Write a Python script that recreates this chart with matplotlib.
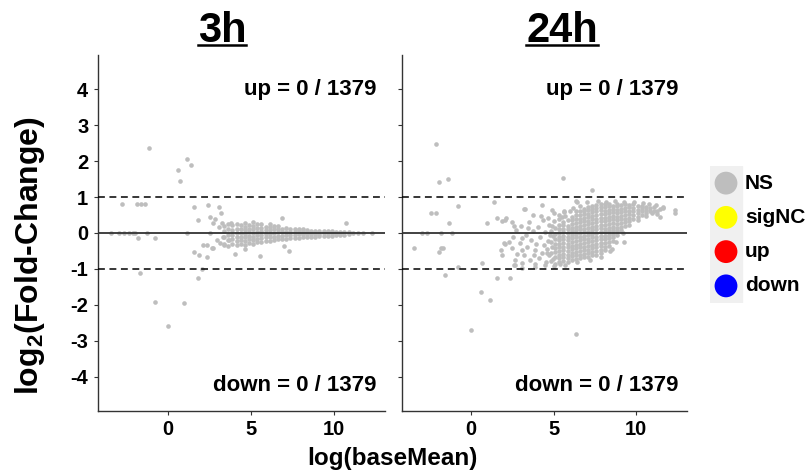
import matplotlib
matplotlib.use('Agg')
import matplotlib.pyplot as plt
from matplotlib.lines import Line2D
from matplotlib.patches import Rectangle
import numpy as np

plt.rcParams['font.family'] = ['Liberation Sans', 'DejaVu Sans']
plt.rcParams['font.weight'] = 'bold'
plt.rcParams['axes.unicode_minus'] = False
plt.rcParams['mathtext.fontset'] = 'custom'
plt.rcParams['mathtext.rm'] = 'Liberation Sans:bold'
plt.rcParams['mathtext.it'] = 'Liberation Sans:bold'
plt.rcParams['mathtext.bf'] = 'Liberation Sans:bold'

# ---- data -------------------------------------------------------------
panels = ['3h', '24h']
n_genes = 1379
n_up = [0, 0]
n_down = [0, 0]

# 3h: isolated genes (log baseMean, log2 fold-change)
sparse_3h = [
    (-1.14, 2.37), (1.19, 2.07), (1.43, 1.90), (0.64, 1.74), (0.72, 1.44),
    (-2.75, 0.82), (-1.83, 0.82), (-1.58, 0.82), (-1.36, 0.82),
    (1.59, 0.73), (2.43, 0.77), (3.08, 0.73), (3.20, 0.56), (1.83, 0.36),
    (-3.41, 0), (-2.91, 0), (-2.63, 0), (-2.35, 0), (-2.10, 0), (-1.95, 0),
    (-1.27, 0), (1.14, 0),
    (-1.78, -0.15), (-0.78, -0.15),
    (1.59, -0.52), (1.91, -0.61), (2.39, -0.68), (2.13, -0.33), (2.39, -0.33),
    (2.71, -0.43), (-1.66, -1.10), (2.07, -1.01), (1.85, -1.24),
    (-0.78, -1.91), (0.99, -1.95), (0.00, -2.58),
    (2.85, 0.38), (2.75, 0.27), (3.08, 0.18), (3.31, -0.10), (2.97, -0.19),
    (3.13, -0.29), (2.67, -0.43), (2.53, 0.45), (3.67, -0.19), (3.37, -0.33),
    (3.28, 0.27), (3.80, 0.27), (2.57, 0.00),
    (6.89, 0.43), (10.77, 0.28), (5.54, -0.64), (7.31, -0.49), (6.99, -0.36),
    (4.68, -0.44), (4.08, -0.58), (12.31, 0.0),
]

# 3h: dense band, columns of (log baseMean, [log2 fold-change ...])
band_3h = [
    (3.40, [-0.30, -0.10, 0.05, 0.20]),
    (3.65, [-0.35, -0.20, -0.05, 0.10, 0.25]),
    (3.90, [-0.30, -0.18, -0.05, 0.08, 0.22]),
    (4.15, [-0.33, -0.22, -0.10, 0.00, 0.12, 0.25]),
    (4.40, [-0.30, -0.20, -0.10, 0.00, 0.10, 0.22]),
    (4.65, [-0.32, -0.22, -0.12, -0.02, 0.08, 0.18, 0.28]),
    (4.90, [-0.28, -0.18, -0.08, 0.02, 0.12, 0.22]),
    (5.15, [-0.30, -0.20, -0.10, 0.00, 0.10, 0.20, 0.30]),
    (5.40, [-0.26, -0.16, -0.06, 0.04, 0.14, 0.24]),
    (5.65, [-0.25, -0.15, -0.05, 0.05, 0.15, 0.25]),
    (5.90, [-0.22, -0.12, -0.02, 0.08, 0.18]),
    (6.15, [-0.22, -0.12, -0.02, 0.08, 0.18, 0.24]),
    (6.40, [-0.20, -0.10, 0.00, 0.10, 0.20]),
    (6.65, [-0.18, -0.08, 0.02, 0.12, 0.20]),
    (6.90, [-0.18, -0.08, 0.02, 0.12]),
    (7.15, [-0.16, -0.06, 0.04, 0.14]),
    (7.40, [-0.15, -0.06, 0.03, 0.12]),
    (7.65, [-0.14, -0.05, 0.04, 0.12]),
    (7.90, [-0.13, -0.04, 0.05, 0.10]),
    (8.15, [-0.12, -0.04, 0.04, 0.10]),
    (8.40, [-0.12, -0.04, 0.04, 0.09]),
    (8.65, [-0.10, -0.02, 0.06]),
    (8.90, [-0.10, -0.02, 0.06]),
    (9.15, [-0.09, -0.02, 0.05]),
    (9.40, [-0.08, 0.00, 0.06]),
    (9.65, [-0.08, 0.00, 0.05]),
    (9.90, [-0.07, 0.00, 0.05]),
    (10.15, [-0.06, 0.00, 0.04]),
    (10.40, [-0.06, 0.00, 0.04]),
    (10.65, [-0.05, 0.02]),
    (10.90, [-0.04, 0.02]),
    (11.20, [0.0]),
    (11.50, [0.0]),
    (11.80, [0.0]),
]

# 24h: isolated genes
sparse_24h = [
    (-2.12, 2.47), (-1.94, 1.41), (-1.42, 1.51), (5.58, 1.54), (7.33, 1.19),
    (6.34, 0.90), (1.41, 0.87), (-0.83, 0.74), (-2.41, 0.55), (-2.16, 0.55),
    (-1.32, 0.29), (0.97, 0.29), (1.58, 0.42), (1.84, 0.33), (2.10, 0.42),
    (3.25, 0.68), (4.30, 0.78), (3.73, 0.50), (4.90, 0.63), (5.65, 0.62),
    (-2.97, 0), (-2.67, 0), (-1.82, 0), (-1.18, 0),
    (-3.48, -0.42), (-1.86, -0.42), (-1.70, -0.42), (-1.98, -0.53),
    (-0.81, -0.95), (-1.58, -1.16), (0.67, -0.84), (1.55, -1.24), (2.38, -1.24),
    (0.62, -1.64), (1.15, -1.85), (-0.02, -2.69), (6.38, -2.81),
    (2.04, -0.30), (1.79, -0.48), (1.88, -0.61), (2.68, -0.89), (3.08, -0.84),
    (3.08, -0.98), (3.85, -0.94), (5.41, -0.86),
    (12.38, 0.64), (12.38, 0.57), (11.67, 0.71), (11.47, 0.44), (11.27, 0.53),
    (9.25, -0.24), (8.52, -0.45), (2.08, 0.36), (3.19, 0.67), (5.61, 0.59),
    (6.42, 0.87), (1.98, -0.29), (2.58, -0.89), (3.09, -0.47), (3.79, -0.61),
    (4.60, -0.56), (11.47, 0.66), (11.67, 0.69), (2.50, 0.30), (2.60, 0.20),
    # loose genes on the low-expression side of the cloud
    (2.45, -0.42), (2.55, -0.12), (2.75, 0.08), (2.80, -0.58), (2.95, -0.28),
    (3.05, 0.20), (3.20, -0.62), (3.30, -0.05), (3.40, -0.38), (3.50, 0.30),
    (3.55, -0.75), (3.65, -0.20), (3.75, 0.05), (3.85, -0.48), (3.95, -0.30),
    (4.05, 0.18), (4.10, -0.70), (4.20, -0.12), (4.30, -0.55), (4.35, 0.35),
    (4.40, -0.32), (4.50, 0.02), (4.55, -0.80), (4.60, -0.45), (4.65, -0.22),
    (4.70, 0.22), (4.75, -0.60), (4.80, -0.05), (4.45, -0.90), (3.90, -0.85),
    (4.25, 0.48), (4.65, 0.42), (5.00, 0.55), (5.30, 0.50), (5.70, 0.48),
    (6.00, 0.60), (3.45, 0.15), (2.65, -0.75), (3.10, -0.15), (2.30, -0.25),
    # ragged edges of the cloud
    (7.00, 0.85), (7.70, 0.88), (8.20, 0.86), (8.70, 0.90), (9.30, 0.85),
    (9.90, 0.86), (10.40, 0.83), (10.80, 0.80), (11.20, 0.78), (11.00, 0.55),
    (6.60, 0.75), (6.20, 0.70), (5.50, 0.45), (5.00, -0.92), (5.70, -0.88),
    (6.40, -0.82), (7.20, -0.75), (7.90, -0.68), (8.40, -0.50), (8.80, -0.25),
    (9.20, 0.00), (9.60, 0.22), (10.10, 0.36), (10.60, 0.48), (11.30, 0.60),
    (4.95, -0.72), (4.92, -0.38), (4.98, -0.08), (4.90, 0.20), (5.02, 0.32),
]

# 24h: dense cloud, columns of (log baseMean, [log2 fold-change ...])
cloud_24h = [
    (4.85, [-0.78, -0.55, -0.25, 0.05]),
    (5.10, [-0.85, -0.68, -0.52, -0.42, -0.30, -0.18, -0.02, 0.14]),
    (5.35, [-0.80, -0.70, -0.60, -0.50, -0.40, -0.30, -0.20, -0.10, 0.00,
            0.10, 0.22, 0.38]),
    (5.60, [-0.78, -0.68, -0.58, -0.48, -0.38, -0.28, -0.18, -0.08, 0.02,
            0.12, 0.22, 0.30]),
    (5.85, [-0.80, -0.70, -0.60, -0.50, -0.40, -0.30, -0.20, -0.10, 0.00,
            0.10, 0.20, 0.35]),
    (6.10, [-0.75, -0.65, -0.55, -0.45, -0.35, -0.25, -0.15, -0.05, 0.05,
            0.15, 0.25, 0.35, 0.45]),
    (6.35, [-0.72, -0.62, -0.52, -0.42, -0.32, -0.22, -0.12, -0.02, 0.08,
            0.18, 0.28, 0.38, 0.50, 0.62]),
    (6.60, [-0.70, -0.60, -0.50, -0.40, -0.30, -0.20, -0.10, 0.00, 0.10,
            0.20, 0.30, 0.40, 0.50, 0.62]),
    (6.85, [-0.68, -0.58, -0.48, -0.38, -0.28, -0.18, -0.08, 0.02, 0.12,
            0.22, 0.32, 0.42, 0.52, 0.60, 0.68]),
    (7.10, [-0.66, -0.56, -0.46, -0.36, -0.26, -0.16, -0.06, 0.04, 0.14,
            0.24, 0.34, 0.44, 0.54, 0.64, 0.72]),
    (7.35, [-0.62, -0.52, -0.42, -0.32, -0.22, -0.12, -0.02, 0.08, 0.18,
            0.28, 0.38, 0.48, 0.58, 0.68, 0.76]),
    (7.60, [-0.60, -0.50, -0.40, -0.30, -0.20, -0.10, 0.00, 0.10, 0.20,
            0.30, 0.40, 0.50, 0.60, 0.70, 0.78]),
    (7.85, [-0.57, -0.47, -0.37, -0.27, -0.17, -0.07, 0.03, 0.13, 0.23,
            0.33, 0.43, 0.53, 0.63, 0.73, 0.80]),
    (8.10, [-0.48, -0.38, -0.28, -0.18, -0.08, 0.02, 0.12, 0.22, 0.32,
            0.42, 0.52, 0.62, 0.72, 0.80]),
    (8.35, [-0.35, -0.25, -0.15, -0.05, 0.05, 0.15, 0.25, 0.35, 0.45,
            0.55, 0.65, 0.75, 0.82]),
    (8.60, [-0.22, -0.12, -0.02, 0.08, 0.18, 0.28, 0.38, 0.48, 0.58,
            0.68, 0.76]),
    (8.85, [-0.05, 0.05, 0.15, 0.25, 0.35, 0.45, 0.55, 0.65, 0.74, 0.82]),
    (9.10, [0.08, 0.18, 0.28, 0.38, 0.48, 0.58, 0.68, 0.78]),
    (9.35, [0.20, 0.30, 0.40, 0.50, 0.60, 0.70, 0.80]),
    (9.60, [0.32, 0.42, 0.52, 0.62, 0.72, 0.78]),
    (9.85, [0.40, 0.50, 0.60, 0.70, 0.80]),
    (10.10, [0.45, 0.55, 0.65, 0.74]),
    (10.35, [0.50, 0.60, 0.70, 0.76]),
    (10.60, [0.55, 0.65, 0.73]),
    (10.85, [0.60, 0.70]),
    (11.10, [0.62, 0.72]),
]

legend_labels = ['NS', 'sigNC', 'up', 'down']
legend_colors = ['#BEBEBE', '#FFFF00', '#FF0000', '#0000FF']


def gather(sparse, columns):
    xs = [p[0] for p in sparse]
    ys = [p[1] for p in sparse]
    for x, col in columns:
        xs += [x] * len(col)
        ys += col
    return np.array(xs), np.array(ys)


panel_data = [gather(sparse_3h, band_3h), gather(sparse_24h, cloud_24h)]

# ---- figure -----------------------------------------------------------
W, H = 812, 476
fig = plt.figure(figsize=(W / 100, H / 100), dpi=100)

axes_px = [(98, 55, 385, 411), (402, 55, 687, 411)]
title_x = [222, 562]
titles = []

for i, (x0, y0, x1, y1) in enumerate(axes_px):
    ax = fig.add_axes([x0 / W, 1 - y1 / H, (x1 - x0) / W, (y1 - y0) / H])
    xs, ys = panel_data[i]
    ax.scatter(xs, ys, s=11, color='#BEBEBE', linewidths=0, zorder=2)
    ax.axhline(0, color='#333333', lw=1.3, zorder=3)
    for yy in (1, -1):
        ax.axhline(yy, color='black', lw=1.1, ls=(0, (4.5, 3)), zorder=3)

    ax.set_xlim(-4.2, 13.1)
    ax.set_ylim(-4.95, 4.95)
    ax.set_xticks([0, 5, 10])
    ax.set_yticks(range(-4, 5))
    for s in ('top', 'right'):
        ax.spines[s].set_visible(False)
    for s in ('left', 'bottom'):
        ax.spines[s].set_color('#333333')
        ax.spines[s].set_linewidth(1.0)
    ax.tick_params(axis='both', length=3, width=0.8, color='#333333',
                   labelsize=14.5, labelcolor='black')
    ax.tick_params(axis='x', pad=3.5)
    ax.tick_params(axis='y', pad=4)
    if i == 1:
        ax.set_yticklabels([])

    ax.text(12.6, 4.0, f'up = {n_up[i]} / {n_genes}', ha='right', va='center',
            fontsize=16, fontweight='bold')
    ax.text(12.6, -4.25, f'down = {n_down[i]} / {n_genes}', ha='right',
            va='center', fontsize=16, fontweight='bold')

    titles.append(fig.text(title_x[i] / W, 1 - 42 / H, panels[i], ha='center',
                           va='baseline', fontsize=30, fontweight='bold'))

fig.text(30 / W, 1 - 256 / H, r'log$_{2}$(Fold-Change)', rotation=90,
         ha='center', va='center', fontsize=23, fontweight='bold')
fig.text(392 / W, 1 - 458 / H, 'log(baseMean)', ha='center', va='center',
         fontsize=17.5, fontweight='bold')

# legend
leg = fig.add_axes([710 / W, 1 - 303 / H, (W - 710) / W, (303 - 166) / H])
leg.set_xlim(0, W - 710)
leg.set_ylim(len(legend_labels) - 0.5, -0.5)
leg.axis('off')
leg.add_patch(Rectangle((0, -0.5), 32, len(legend_labels), color='#F0F0F0',
                        zorder=0))
leg.scatter([16] * len(legend_labels), range(len(legend_labels)), s=270,
            c=legend_colors, linewidths=0, zorder=2)
for k, lab in enumerate(legend_labels):
    leg.text(35, k, lab, ha='left', va='center', fontsize=15,
             fontweight='bold')

# underline the panel titles just below the baseline
fig.canvas.draw()
renderer = fig.canvas.get_renderer()
for t in titles:
    bb = t.get_window_extent(renderer)
    yline = (H - 42) - 2.5
    fig.add_artist(Line2D([bb.x0 / W, bb.x1 / W], [yline / H, yline / H],
                          transform=fig.transFigure, color='black', lw=1.8))

fig.savefig('out.png', dpi=100)
